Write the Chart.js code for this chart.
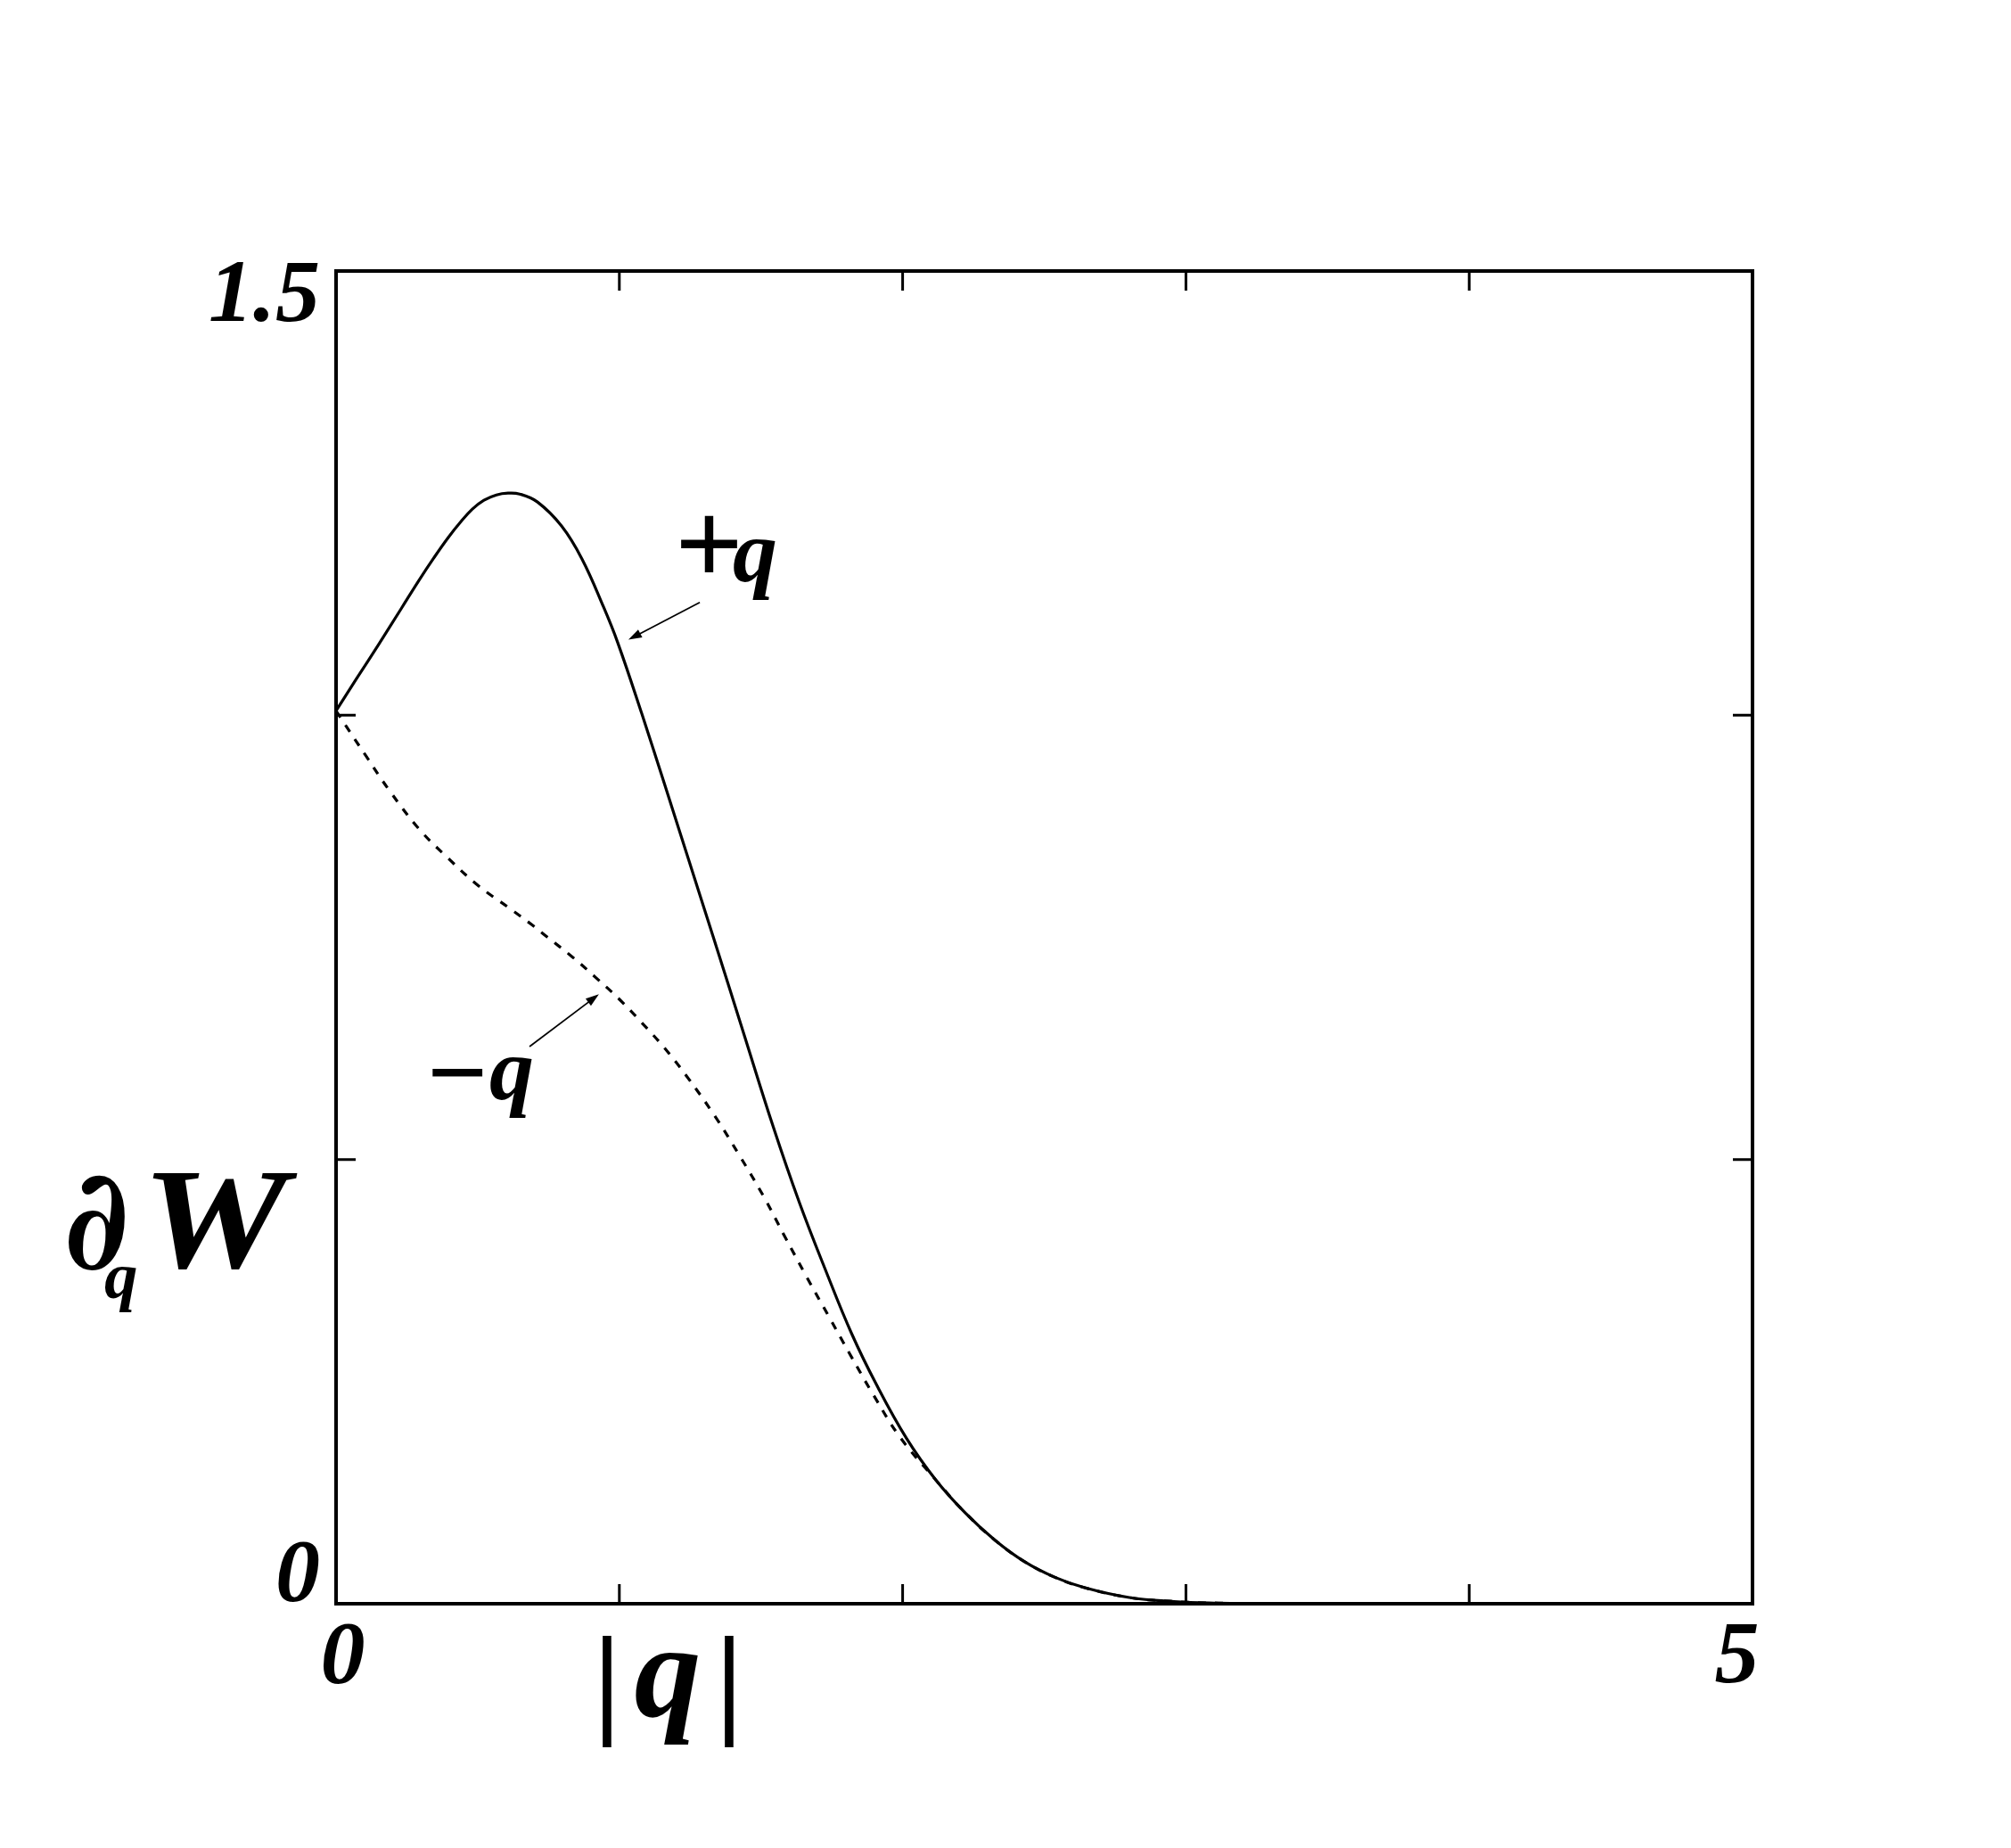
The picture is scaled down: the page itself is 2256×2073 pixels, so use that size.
<!DOCTYPE html>
<html>
<head>
<meta charset="utf-8">
<script src="https://cdn.jsdelivr.net/npm/chart.js@4/dist/chart.umd.min.js"></script>
<style>
html,body{margin:0;padding:0;background:#fff;}
#wrap{width:2256px;height:2073px;}
</style>
</head>
<body>
<div id="wrap"><canvas id="c" width="2256" height="2073"></canvas></div>
<script>
// ---- data ----
const qPlus  = [0,0.072,0.151,0.230,0.293,0.345,0.396,0.441,0.481,0.522,0.566,0.607,0.648,0.711,0.796,0.868,0.944,0.994,1.079,1.160,1.243,1.331,1.435,1.542,1.635,1.731,1.820,1.907,2.014,2.118,2.222,2.328,2.432,2.536,2.643,2.800,2.958,3.115,3.273,5];
const dWPlus = [1.005,1.041,1.080,1.120,1.152,1.177,1.200,1.218,1.232,1.242,1.248,1.250,1.249,1.240,1.213,1.176,1.122,1.082,1.002,0.922,0.839,0.751,0.646,0.538,0.452,0.373,0.304,0.247,0.186,0.139,0.102,0.071,0.047,0.030,0.018,0.007,0.0025,0.0007,0,0];
const qMinus  = [0,0.031,0.104,0.189,0.293,0.396,0.503,0.607,0.692,0.743,0.834,0.916,1.001,1.079,1.158,1.237,1.337,1.425,1.510,1.583,1.661,1.740,1.812,1.897,1.992,2.118,2.222,2.328,2.432,2.536,2.643,2.800,2.958,3.115,3.273,5];
const dWMinus = [1.005,0.990,0.955,0.915,0.872,0.839,0.808,0.784,0.764,0.751,0.728,0.705,0.680,0.654,0.626,0.594,0.549,0.504,0.458,0.414,0.368,0.323,0.282,0.235,0.187,0.139,0.102,0.071,0.047,0.030,0.018,0.007,0.0025,0.0007,0,0];

const xTickValues = [0,1,2,3,4,5];
const xTickLabels = ['0','','','','','5'];
const yTickValues = [0,0.5,1,1.5];
const yTickLabels = ['0','','','1.5'];
const seriesSigns = ['+','\u2212'];
const seriesSymbol = 'q';
const xTitleParts = ['|','q','|'];
const yTitleParts = ['\u2202','q','W'];

// annotation anchors in data units: label [x, baseline y], arrow tail & tip
const plusLabelAt  = [1.196, 1.151];
const minusLabelAt = [0.321, 0.568];
const plusArrow  = [[1.284, 1.127],[1.032, 1.085]];
const minusArrow = [[0.683, 0.627],[0.928, 0.686]];

const SERIF = '"Liberation Serif","Times New Roman",serif';

function zip(xs, ys){ return xs.map((v,i)=>({x:v, y:ys[i]})); }

function drawArrow(ctx, x1, y1, x2, y2){
  const a = Math.atan2(y2-y1, x2-x1), L = 15, W = 5;
  const c = Math.cos(a), s = Math.sin(a);
  ctx.lineWidth = 1.8;
  ctx.beginPath(); ctx.moveTo(x1,y1); ctx.lineTo(x2-L*0.7*c, y2-L*0.7*s); ctx.stroke();
  ctx.beginPath();
  ctx.moveTo(x2,y2);
  ctx.lineTo(x2-L*c+W*s, y2-L*s-W*c);
  ctx.lineTo(x2-L*c-W*s, y2-L*s+W*c);
  ctx.closePath(); ctx.fill();
}

function scaledText(ctx, txt, x, y, sx){
  ctx.save(); ctx.translate(x, y); ctx.scale(sx, 1); ctx.fillText(txt, 0, 0); ctx.restore();
}

const decor = {
  id: 'decor',
  afterDatasetsDraw(chart){
    const {ctx, chartArea:a, scales:{x, y}} = chart;
    ctx.save();
    ctx.strokeStyle = '#000'; ctx.fillStyle = '#000';
    // frame
    ctx.lineWidth = 4;
    ctx.strokeRect(a.left, a.top, a.right-a.left, a.bottom-a.top);
    // inward ticks on all sides
    ctx.lineWidth = 3;
    ctx.beginPath();
    xTickValues.forEach(v => {
      const px = x.getPixelForValue(v);
      ctx.moveTo(px, a.bottom); ctx.lineTo(px, a.bottom-22);
      ctx.moveTo(px, a.top); ctx.lineTo(px, a.top+22);
    });
    yTickValues.forEach(v => {
      const py = y.getPixelForValue(v);
      ctx.moveTo(a.left, py); ctx.lineTo(a.left+22, py);
      ctx.moveTo(a.right, py); ctx.lineTo(a.right-22, py);
    });
    ctx.stroke();

    // x-axis title |q|
    ctx.textBaseline = 'alphabetic';
    ctx.textAlign = 'center';
    ctx.font = 'bold 138px ' + SERIF;
    ctx.fillText(xTitleParts[0], a.left+304, a.bottom+132);
    ctx.fillText(xTitleParts[2], a.left+441, a.bottom+132);
    ctx.font = 'italic bold 150px ' + SERIF;
    ctx.fillText(xTitleParts[1], a.left+372, a.bottom+126);

    // y-axis title ∂_q W
    ctx.textAlign = 'left';
    ctx.font = 'italic bold 158px "DejaVu Serif",serif';
    scaledText(ctx, yTitleParts[0], a.left-305, a.top+1119, 0.86);
    ctx.font = 'italic bold 160px ' + SERIF;
    scaledText(ctx, yTitleParts[2], a.left-218, a.top+1118, 1.15);
    ctx.font = 'italic bold 75px ' + SERIF;
    ctx.fillText(yTitleParts[1], a.left-260, a.top+1152);

    // series labels with arrows
    const lbl = (sign, at, size, sdy, qdx) => {
      const px = x.getPixelForValue(at[0]), py = y.getPixelForValue(at[1]);
      ctx.textAlign = 'left';
      ctx.font = 'bold ' + size + 'px ' + SERIF;
      ctx.fillText(sign, px, py + sdy);
      ctx.font = 'italic bold 100px ' + SERIF;
      ctx.fillText(seriesSymbol, px + qdx, py);
    };
    lbl(seriesSigns[0], plusLabelAt, 135, 3, 65);
    lbl(seriesSigns[1], minusLabelAt, 120, 10, 70);
    [plusArrow, minusArrow].forEach(ar => {
      drawArrow(ctx, x.getPixelForValue(ar[0][0]), y.getPixelForValue(ar[0][1]),
                     x.getPixelForValue(ar[1][0]), y.getPixelForValue(ar[1][1]));
    });
    ctx.restore();
  }
};

new Chart(document.getElementById('c'), {
  type: 'line',
  data: {
    datasets: [
      { label: '+q', data: zip(qPlus, dWPlus), borderColor: '#000', borderWidth: 3.2,
        pointRadius: 0, fill: false, tension: 0.4 },
      { label: '-q', data: zip(qMinus, dWMinus), borderColor: '#000', borderWidth: 3.2,
        borderDash: [9,10], pointRadius: 0, fill: false, tension: 0.4 }
    ]
  },
  options: {
    responsive: false,
    animation: false,
    devicePixelRatio: 1,
    layout: { padding: { left: 0, top: 304, right: 290, bottom: 0 } },
    plugins: { legend: { display: false }, tooltip: { enabled: false }, title: { display: false } },
    scales: {
      x: {
        type: 'linear', min: 0, max: 5,
        grid: { display: false, drawTicks: false },
        border: { display: false },
        afterBuildTicks: s => { s.ticks = xTickValues.map(v => ({value: v})); },
        afterFit: s => { s.height = 274; },
        ticks: {
          autoSkip: false, maxRotation: 0, padding: 2, labelOffset: -5,
          color: '#000', font: { family: SERIF, size: 100, weight: 'bold', style: 'italic' },
          callback: (v) => {
            const i = xTickValues.indexOf(v);
            const t = xTickLabels[i];
            if (i === 0) return ' ' + t;
            if (i === xTickValues.length-1) return t + ' ';
            return t;
          }
        }
      },
      y: {
        type: 'linear', min: 0, max: 1.5,
        grid: { display: false, drawTicks: false },
        border: { display: false },
        afterBuildTicks: s => { s.ticks = yTickValues.map(v => ({value: v})); },
        afterFit: s => { s.width = 377; },
        ticks: {
          autoSkip: false, padding: 18,
          color: '#000', font: { family: SERIF, size: 100, weight: 'bold', style: 'italic', lineHeight: 0.6 },
          callback: (v) => {
            const i = yTickValues.indexOf(v);
            const t = yTickLabels[i];
            if (i === 0) return [t, ''];
            if (i === yTickValues.length-1) return ['', t];
            return t;
          }
        }
      }
    }
  },
  plugins: [decor]
});
</script>
</body>
</html>
